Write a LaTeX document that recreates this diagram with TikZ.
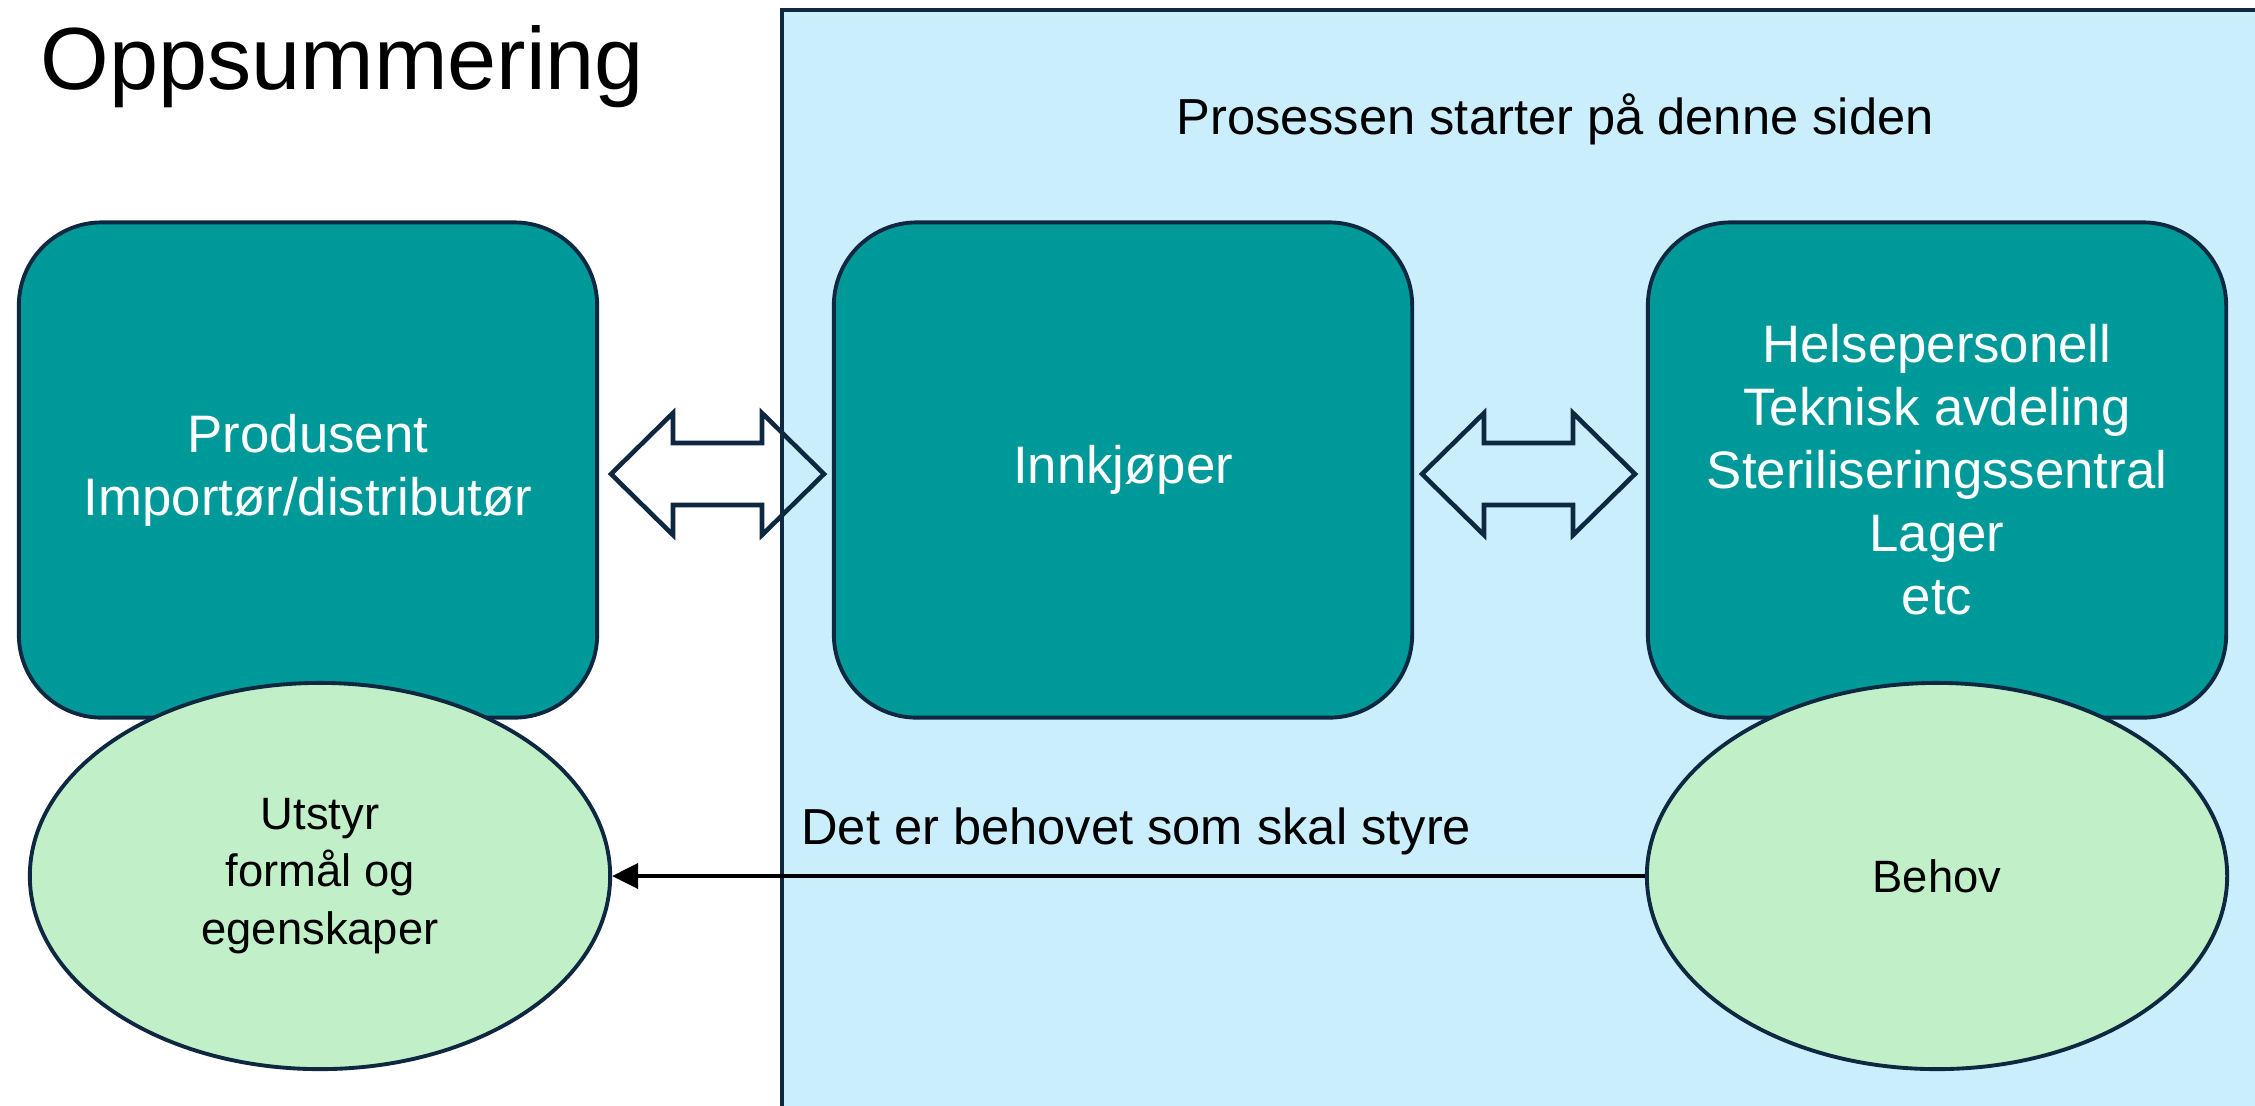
\documentclass[tikz,border=0pt]{standalone}
\usepackage{fontspec}
\setmainfont{Liberation Sans}
\usetikzlibrary{shapes.geometric,arrows.meta}
\definecolor{mork}{HTML}{0E2841}
\definecolor{petrol}{HTML}{009999}
\definecolor{lysbla}{HTML}{CAEEFB}
\definecolor{lysgronn}{HTML}{C1F0C8}
\begin{document}
\begin{tikzpicture}[x=0.01cm, y=-0.01cm, line width=1.1pt,
  boks/.style={rectangle, rounded corners=0.83cm, draw=mork, fill=petrol, text=white,
    minimum width=5.78cm, minimum height=4.95cm, align=center,
    font=\fontsize{15}{17.9}\selectfont},
  sirkel/.style={ellipse, draw=mork, fill=lysgronn, minimum width=5.8cm,
    minimum height=3.86cm, align=center, font=\fontsize{12.9}{16.3}\selectfont},
  dobbelpil/.style={draw=mork, line width=1.3pt, line join=miter},
  tekst/.style={font=\fontsize{14.4}{17}\selectfont}]
\clip (0,0) rectangle (2255,1105);
% Bakgrunn
\fill[white] (0,0) rectangle (2255,1105);
\draw[draw=mork, fill=lysbla] (782,10) rectangle (2275,1125);
\node[anchor=base west, font=\fontsize{25.1}{30}\selectfont] (tittel) at (27,89) {Oppsummering};
\node[tekst, anchor=base] (start) at (1555,134) {Prosessen starter på denne siden};
% Bokser
\node[boks] (produsent) at (308,470) {Produsent\\Importør/distributør};
\node[boks] (innkjoper) at (1123,470) {Innkjøper};
\node[boks] (brukere)   at (1937,470) {Helsepersonell\\Teknisk avdeling\\Steriliseringssentral\\Lager\\etc};
% Ellipser
\node[sirkel] (utstyr) at (320,876) {Utstyr\\formål og\\egenskaper};
\node[sirkel] (behov)  at (1937,876) {Behov};
% Piler
\coordinate (pil1) at (717.5,474);
\coordinate (pil2) at (1528.5,474);
\foreach \p in {pil1,pil2}
  \draw[dobbelpil] (\p) ++(-106.5,0) -- ++(62,-61) -- ++(0,30) -- ++(89,0) -- ++(0,-30)
    -- ++(62,61) -- ++(-62,61) -- ++(0,-30) -- ++(-89,0) -- ++(0,30) -- cycle;
\draw[-{Triangle[length=0.26cm, width=0.25cm]}] (behov) -- (utstyr)
  node[tekst, pos=0.83, anchor=base west, yshift=0.32cm] (styre) {Det er behovet som skal styre};
\end{tikzpicture}
\end{document}
